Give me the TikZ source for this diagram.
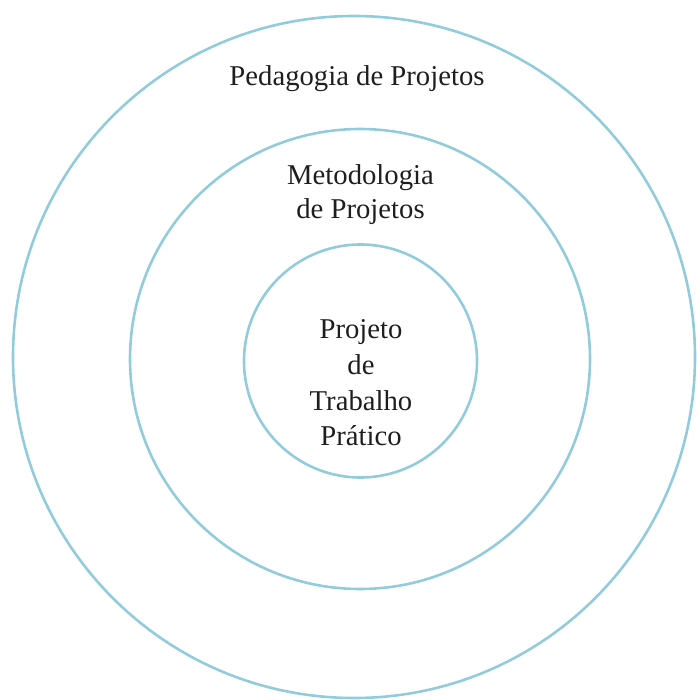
\documentclass[tikz,border=0pt]{standalone}
\usepackage{fontspec}
\setmainfont{Liberation Serif}
\definecolor{ringblue}{RGB}{146,204,220}
\definecolor{txt}{RGB}{30,30,30}
\begin{document}
\begin{tikzpicture}[x=1pt,y=-1pt,
  ring/.style={circle,draw=ringblue,line width=2.6pt,inner sep=0pt},
  lbl/.style={anchor=base,inner sep=0pt,text=txt,font=\fontsize{28.7}{34}\selectfont}]
\useasboundingbox (0,0) rectangle (696,700);
\node[ring,minimum size=682pt] (outer) at (354,357) {};
\node[ring,minimum size=460pt] (middle) at (360,359) {};
\node[ring,minimum size=233pt] (inner) at (360.5,361) {};
\node[lbl] (ped) at (357,86) {Pedagogia de Projetos};
\node[lbl] (met1) at (360.5,185) {Metodologia};
\node[lbl] (met2) at (360.5,219) {de Projetos};
\node[lbl] (in1) at (361,338) {Projeto};
\node[lbl] (in2) at (361,374) {de};
\node[lbl] (in3) at (361,410) {Trabalho};
\node[lbl] (in4) at (361,445) {Prático};
\end{tikzpicture}
\end{document}
